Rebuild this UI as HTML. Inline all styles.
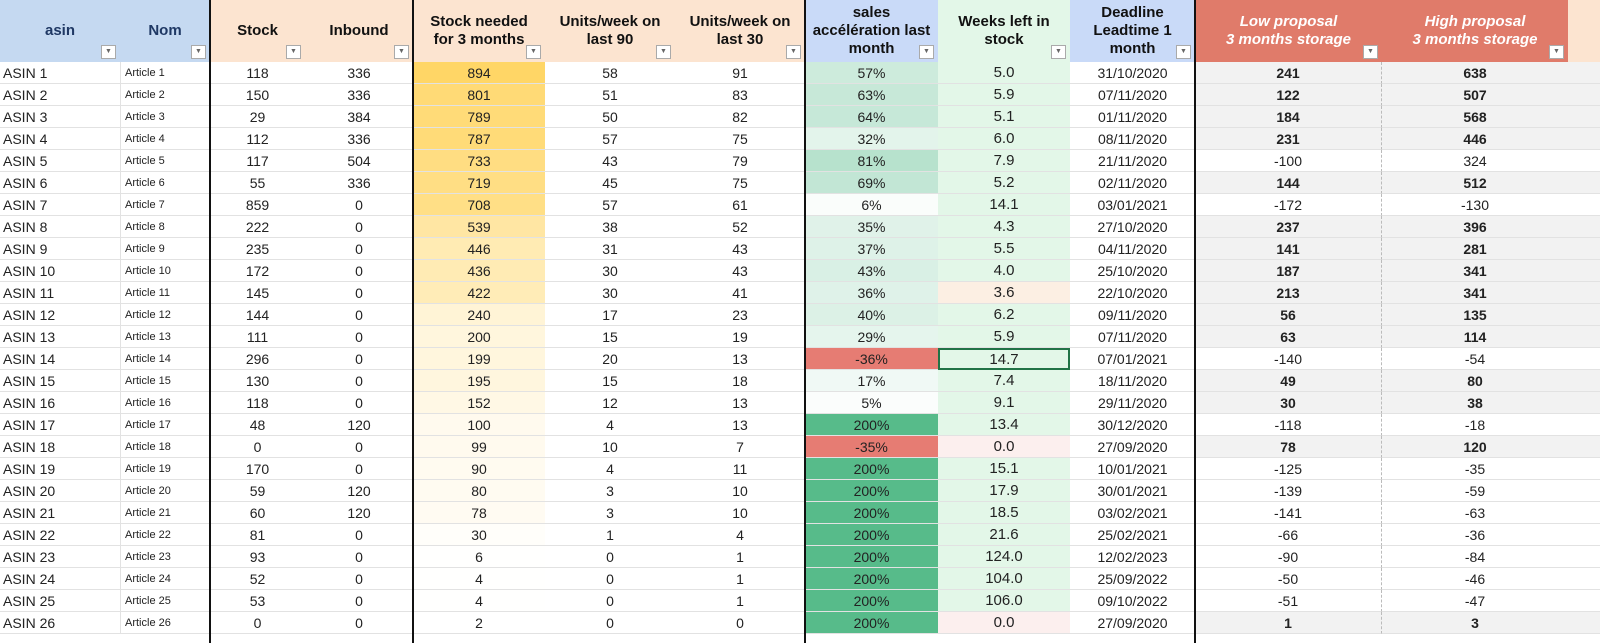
<!DOCTYPE html>
<html><head><meta charset="utf-8"><style>
body{margin:0;width:1600px;height:643px;overflow:hidden;background:#fff;font-family:"Liberation Sans",Arial,sans-serif;position:relative}
.c{position:absolute;box-sizing:border-box;display:flex;align-items:center;justify-content:center;font-size:14px;color:#222;border-bottom:1px solid #e2e2e2;white-space:nowrap}
.h{position:absolute;top:0;height:62px;box-sizing:border-box;display:flex;align-items:center;justify-content:center;text-align:center;font-weight:bold;font-size:15px;line-height:18px;color:#111}
.dd{position:absolute;right:4px;bottom:3px;width:13px;height:12px;border:1px solid #aaa;background:#fff;font-size:7px;color:#666;display:flex;align-items:center;justify-content:center}
.vl{position:absolute;top:0;height:643px;width:2px;background:#111}
</style></head><body>
<div id="root"></div>
<script>
const asins=[];for(let i=1;i<=26;i++)asins.push(i);
const stock=[118,150,29,112,117,55,859,222,235,172,145,144,111,296,130,118,48,0,170,59,60,81,93,52,53,0];
const inbound=[336,336,384,336,504,336,0,0,0,0,0,0,0,0,0,0,120,0,0,120,120,0,0,0,0,0];
const needed=[894,801,789,787,733,719,708,539,446,436,422,240,200,199,195,152,100,99,90,80,78,30,6,4,4,2];
const u90=[58,51,50,57,43,45,57,38,31,30,30,17,15,20,15,12,4,10,4,3,3,1,0,0,0,0];
const u30=[91,83,82,75,79,75,61,52,43,43,41,23,19,13,18,13,13,7,11,10,10,4,1,1,1,0];
const accel=[57,63,64,32,81,69,6,35,37,43,36,40,29,-36,17,5,200,-35,200,200,200,200,200,200,200,200];
const weeks=["5.0","5.9","5.1","6.0","7.9","5.2","14.1","4.3","5.5","4.0","3.6","6.2","5.9","14.7","7.4","9.1","13.4","0.0","15.1","17.9","18.5","21.6","124.0","104.0","106.0","0.0"];
const deadline=["31/10/2020","07/11/2020","01/11/2020","08/11/2020","21/11/2020","02/11/2020","03/01/2021","27/10/2020","04/11/2020","25/10/2020","22/10/2020","09/11/2020","07/11/2020","07/01/2021","18/11/2020","29/11/2020","30/12/2020","27/09/2020","10/01/2021","30/01/2021","03/02/2021","25/02/2021","12/02/2023","25/09/2022","09/10/2022","27/09/2020"];
const low=[241,122,184,231,-100,144,-172,237,141,187,213,56,63,-140,49,30,-118,78,-125,-139,-141,-66,-90,-50,-51,1];
const high=[638,507,568,446,324,512,-130,396,281,341,341,135,114,-54,80,38,-18,120,-35,-59,-63,-36,-84,-46,-47,3];

const root=document.getElementById('root');
const cols=[[0,120],[120,210],[210,305],[305,413],[413,545],[545,675],[675,805],[805,938],[938,1070],[1070,1195],[1195,1382],[1382,1568],[1568,1600]];
const heads=[["asin","#c5d9f1","#1f3864"],["Nom","#c5d9f1","#1f3864"],["Stock","#fce4d0"],["Inbound","#fce4d0"],["Stock needed<br>for 3 months","#fce4d0"],["Units/week on<br>last 90","#fce4d0"],["Units/week on<br>last 30","#fce4d0"],["sales<br>accélération last<br>month","#c9daf8"],["Weeks left in<br>stock","#e3f7e8"],["Deadline<br>Leadtime 1<br>month","#c9daf8"],["<i>Low proposal<br>3 months storage</i>","#e07b6a","#fff"],["<i>High proposal<br>3 months storage</i>","#e07b6a","#fff"],["","#fce4d0"]];
heads.forEach((h,i)=>{const d=document.createElement('div');d.className='h';


d.style.left=cols[i][0]+'px';d.style.width=(cols[i][1]-cols[i][0])+'px';d.style.background=h[1];d.style.color=h[2]||'#111';d.innerHTML=h[0];
if(i<12){const f=document.createElement('div');f.className='dd';f.textContent='▼';


d.appendChild(f);}
root.appendChild(d);});
const H0=62,RH=22;
function mix(a,b,t){return 'rgb('+a.map((v,k)=>Math.round(v+(b[k]-v)*t)).join(',')+')';}
function cell(r,ci,text,bg,extra){const d=document.createElement('div');d.className='c';


d.style.top=(H0+r*RH)+'px';d.style.height=RH+'px';d.style.left=cols[ci][0]+'px';d.style.width=(cols[ci][1]-cols[ci][0])+'px';
if(bg)d.style.background=bg;d.innerHTML=text;if(extra)Object.assign(d.style,extra);root.appendChild(d);return d;}
const maxN=Math.max(...needed);
asins.forEach((a,r)=>{
cell(r,0,'ASIN '+a,null,{justifyContent:'flex-start',paddingLeft:'3px'});
cell(r,1,'Article '+a,null,{justifyContent:'flex-start',paddingLeft:'4px',fontSize:'11px',borderLeft:'1px solid #e2e2e2'});
cell(r,2,stock[r]);cell(r,3,inbound[r]);
cell(r,4,needed[r],mix([255,255,255],[255,214,102],needed[r]/maxN));
cell(r,5,u90[r]);cell(r,6,u30[r]);
const ac=accel[r];let bg=ac<0?'#e67c73':mix([255,255,255],[87,187,138],ac>=200?1:ac/190);
cell(r,7,ac+'%',bg);
let wb='#e3f7e8';if(weeks[r]==='3.6')wb='#fcefe3';if(weeks[r]==='0.0')wb='#fcefee';
const w=cell(r,8,weeks[r],wb,{fontSize:'15px'});
if(r===13){w.style.border='2px solid #217346';}
cell(r,9,deadline[r],null,{fontSize:'14px'});
const neg=low[r]<0;const lb=neg?'#fff':'#f2f2f2';const fw=neg?'normal':'bold';
cell(r,10,low[r],lb,{fontWeight:fw,borderRight:'1px dashed #bbb'});
cell(r,11,high[r],lb,{fontWeight:fw});
cell(r,12,'',lb);
});
[210,413,805,1195].forEach(x=>{const v=document.createElement('div');v.className='vl';v.style.left=(x-1)+'px';


root.appendChild(v);});
</script>
</body></html>
